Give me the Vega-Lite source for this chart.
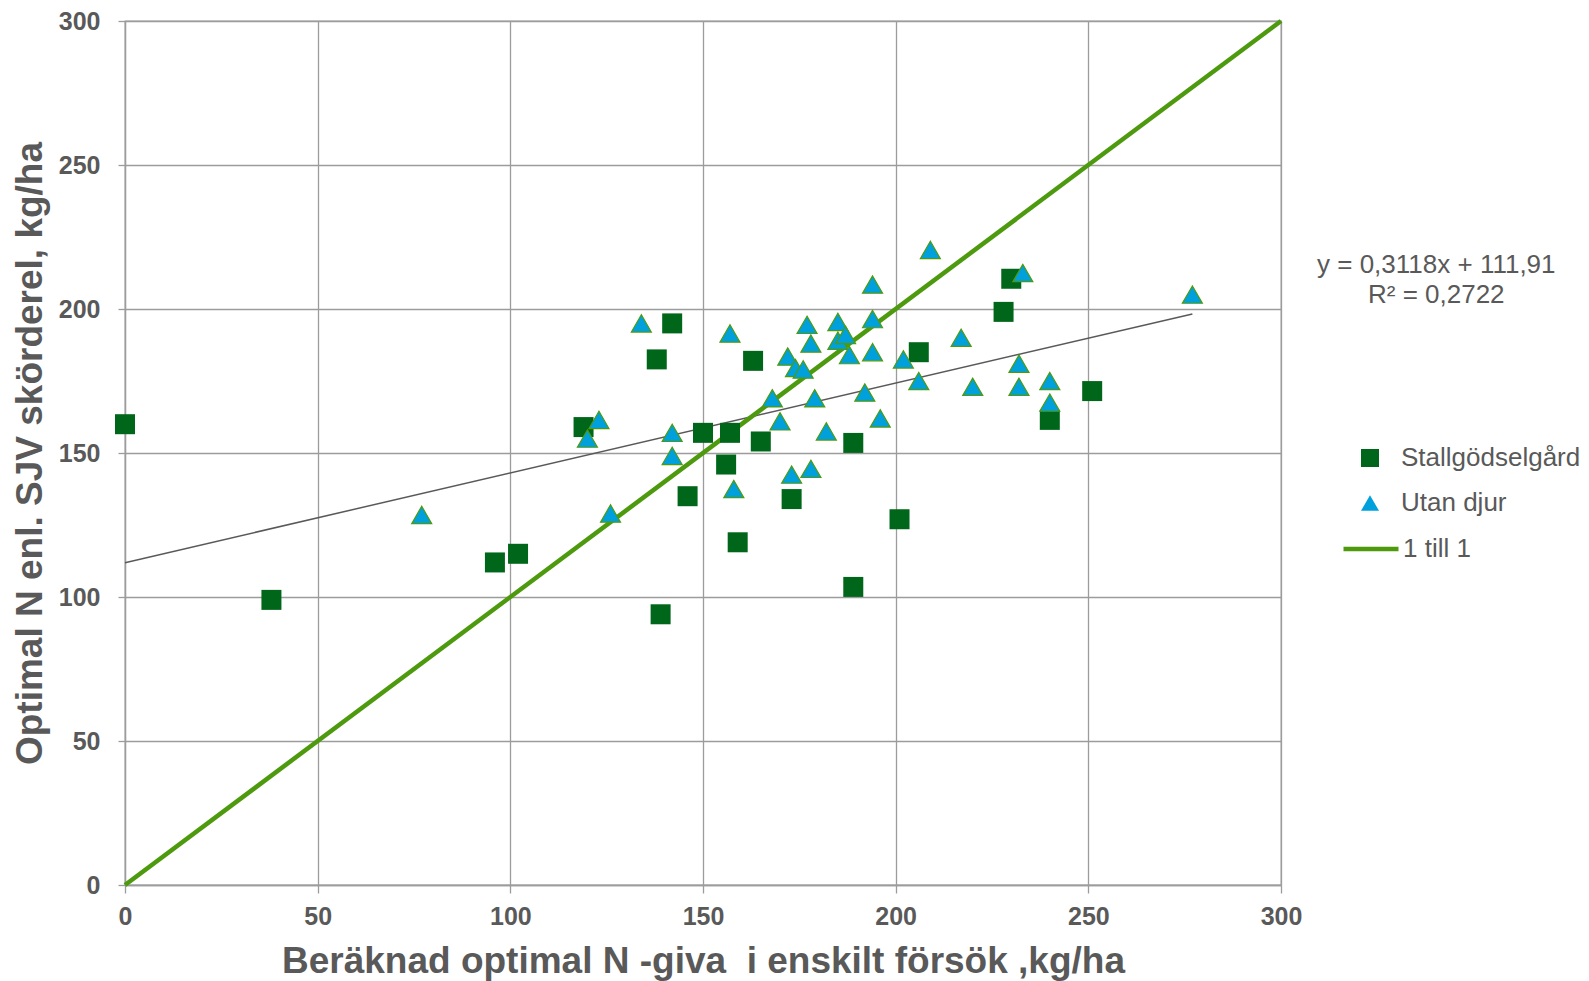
{
  "$schema": "https://vega.github.io/schema/vega-lite/v6.json",
  "autosize": {"type": "none"},
  "width": 1156,
  "height": 864,
  "padding": {"left": 125, "top": 21, "right": 308, "bottom": 96},
  "background": "white",
  "config": {
    "font": "Liberation Sans",
    "view": {"stroke": "#9c9c9c", "strokeWidth": 1.3},
    "axis": {
      "gridColor": "#9c9c9c", "gridWidth": 1.3, "gridOpacity": 1,
      "domainColor": "#9c9c9c", "domainWidth": 1.3,
      "tickColor": "#9c9c9c", "tickWidth": 1.3,
      "labelFont": "Liberation Sans", "labelFontSize": 25, "labelFontWeight": "bold", "labelColor": "#595959",
      "labelFlush": false,
      "titleFont": "Liberation Sans", "titleFontSize": 37, "titleFontWeight": "bold", "titleColor": "#595959"
    },
    "legend": {
      "labelFont": "Liberation Sans", "labelFontSize": 26, "labelColor": "#595959", "padding": 0, "labelLimit": 0
    }
  },
  "datasets": {
    "punkter": [
      {"x": 0, "y": 160, "grupp": "Stallgödselgård"},
      {"x": 38, "y": 99, "grupp": "Stallgödselgård"},
      {"x": 96, "y": 112, "grupp": "Stallgödselgård"},
      {"x": 102, "y": 115, "grupp": "Stallgödselgård"},
      {"x": 119, "y": 159, "grupp": "Stallgödselgård"},
      {"x": 138, "y": 182.5, "grupp": "Stallgödselgård"},
      {"x": 139, "y": 94, "grupp": "Stallgödselgård"},
      {"x": 142, "y": 195, "grupp": "Stallgödselgård"},
      {"x": 146, "y": 135, "grupp": "Stallgödselgård"},
      {"x": 150, "y": 157, "grupp": "Stallgödselgård"},
      {"x": 156, "y": 146, "grupp": "Stallgödselgård"},
      {"x": 157, "y": 157, "grupp": "Stallgödselgård"},
      {"x": 159, "y": 119, "grupp": "Stallgödselgård"},
      {"x": 163, "y": 182, "grupp": "Stallgödselgård"},
      {"x": 165, "y": 154, "grupp": "Stallgödselgård"},
      {"x": 173, "y": 134, "grupp": "Stallgödselgård"},
      {"x": 189, "y": 153.5, "grupp": "Stallgödselgård"},
      {"x": 189, "y": 103.5, "grupp": "Stallgödselgård"},
      {"x": 201, "y": 127, "grupp": "Stallgödselgård"},
      {"x": 206, "y": 185, "grupp": "Stallgödselgård"},
      {"x": 228, "y": 199, "grupp": "Stallgödselgård"},
      {"x": 230, "y": 210.5, "grupp": "Stallgödselgård"},
      {"x": 240, "y": 161.5, "grupp": "Stallgödselgård"},
      {"x": 251, "y": 171.5, "grupp": "Stallgödselgård"},
      {"x": 77, "y": 128.5, "grupp": "Utan djur"},
      {"x": 120, "y": 155, "grupp": "Utan djur"},
      {"x": 123, "y": 161.5, "grupp": "Utan djur"},
      {"x": 126, "y": 129, "grupp": "Utan djur"},
      {"x": 134, "y": 195, "grupp": "Utan djur"},
      {"x": 142, "y": 157, "grupp": "Utan djur"},
      {"x": 142, "y": 149, "grupp": "Utan djur"},
      {"x": 157, "y": 191.5, "grupp": "Utan djur"},
      {"x": 158, "y": 137.5, "grupp": "Utan djur"},
      {"x": 168, "y": 169, "grupp": "Utan djur"},
      {"x": 170, "y": 161, "grupp": "Utan djur"},
      {"x": 172, "y": 183.5, "grupp": "Utan djur"},
      {"x": 173, "y": 142.5, "grupp": "Utan djur"},
      {"x": 174, "y": 179.5, "grupp": "Utan djur"},
      {"x": 176, "y": 179, "grupp": "Utan djur"},
      {"x": 177, "y": 194.5, "grupp": "Utan djur"},
      {"x": 178, "y": 188, "grupp": "Utan djur"},
      {"x": 178, "y": 144.5, "grupp": "Utan djur"},
      {"x": 179, "y": 169, "grupp": "Utan djur"},
      {"x": 182, "y": 157.5, "grupp": "Utan djur"},
      {"x": 185, "y": 195.5, "grupp": "Utan djur"},
      {"x": 185, "y": 189, "grupp": "Utan djur"},
      {"x": 187, "y": 191, "grupp": "Utan djur"},
      {"x": 188, "y": 184, "grupp": "Utan djur"},
      {"x": 192, "y": 171, "grupp": "Utan djur"},
      {"x": 194, "y": 208.5, "grupp": "Utan djur"},
      {"x": 194, "y": 196.5, "grupp": "Utan djur"},
      {"x": 194, "y": 185, "grupp": "Utan djur"},
      {"x": 196, "y": 162, "grupp": "Utan djur"},
      {"x": 202, "y": 182.5, "grupp": "Utan djur"},
      {"x": 206, "y": 175, "grupp": "Utan djur"},
      {"x": 209, "y": 220.5, "grupp": "Utan djur"},
      {"x": 217, "y": 190, "grupp": "Utan djur"},
      {"x": 220, "y": 173, "grupp": "Utan djur"},
      {"x": 232, "y": 181, "grupp": "Utan djur"},
      {"x": 232, "y": 173, "grupp": "Utan djur"},
      {"x": 233, "y": 212.5, "grupp": "Utan djur"},
      {"x": 240, "y": 175, "grupp": "Utan djur"},
      {"x": 240, "y": 167.5, "grupp": "Utan djur"},
      {"x": 277, "y": 205, "grupp": "Utan djur"}
    ],
    "ettTillEtt": [
      {"x": 0, "y": 0, "serie": "1 till 1"},
      {"x": 300, "y": 300, "serie": "1 till 1"}
    ],
    "trend": [
      {"x": 0, "y": 111.91},
      {"x": 277, "y": 198.28}
    ]
  },
  "layer": [
    {
      "data": {"name": "trend"},
      "mark": {"type": "line", "color": "#595959", "strokeWidth": 1.5},
      "encoding": {
        "x": {"field": "x", "type": "quantitative", "scale": {"domain": [0, 300], "nice": false},
              "axis": {"values": [0, 50, 100, 150, 200, 250, 300], "tickSize": 8, "labelPadding": 11,
                       "title": "Beräknad optimal N -giva \u00a0i enskilt försök ,kg/ha", "titlePadding": 14}},
        "y": {"field": "y", "type": "quantitative", "scale": {"domain": [0, 300], "nice": false},
              "axis": {"values": [0, 50, 100, 150, 200, 250, 300], "tickSize": 7, "labelPadding": 18,
                       "title": "Optimal N enl. SJV skörderel, kg/ha", "titlePadding": 9}}
      }
    },
    {
      "data": {"name": "ettTillEtt"},
      "mark": {"type": "line", "strokeWidth": 4.5},
      "encoding": {
        "x": {"field": "x", "type": "quantitative"},
        "y": {"field": "y", "type": "quantitative"},
        "stroke": {"field": "serie", "type": "nominal",
                   "scale": {"domain": ["1 till 1"], "range": ["#4e9a0f"]},
                   "legend": {"title": null, "orient": "none", "legendX": 1216, "legendY": 498,
                              "symbolType": "stroke", "symbolSize": 3025, "symbolStrokeWidth": 4.5,
                              "labelOffset": 2}}
      }
    },
    {
      "data": {"name": "punkter"},
      "transform": [{"filter": "datum.grupp === 'Stallgödselgård'"}],
      "mark": {"type": "point", "filled": true, "opacity": 1, "size": 400},
      "encoding": {
        "x": {"field": "x", "type": "quantitative"},
        "y": {"field": "y", "type": "quantitative"},
        "color": {"field": "grupp", "type": "nominal",
                  "scale": {"domain": ["Stallgödselgård", "Utan djur"], "range": ["#006619", "#00a0dc"]},
                  "legend": {"title": null, "orient": "none", "legendX": 1232, "legendY": 424,
                             "symbolSize": 324, "symbolOpacity": 1, "symbolStrokeWidth": 0,
                             "rowPadding": 19, "labelOffset": 18}},
        "shape": {"field": "grupp", "type": "nominal",
                  "scale": {"domain": ["Stallgödselgård", "Utan djur"], "range": ["square", "triangle-up"]}}
      }
    },
    {
      "data": {"name": "punkter"},
      "transform": [{"filter": "datum.grupp === 'Utan djur'"}],
      "mark": {"type": "point", "filled": true, "opacity": 1, "size": 400, "stroke": "#4e9a0f", "strokeWidth": 1.2},
      "encoding": {
        "x": {"field": "x", "type": "quantitative"},
        "y": {"field": "y", "type": "quantitative"},
        "color": {"field": "grupp", "type": "nominal"},
        "shape": {"field": "grupp", "type": "nominal"}
      }
    },
    {
      "data": {"values": [{"etikett": "trendlinje"}]},
      "mark": {"type": "text", "align": "center", "baseline": "alphabetic", "fontSize": 26, "lineHeight": 30,
               "color": "#595959", "font": "Liberation Sans", "clip": false},
      "encoding": {
        "x": {"datum": 340.3, "type": "quantitative"},
        "y": {"datum": 212.5, "type": "quantitative"},
        "text": {"value": ["y = 0,3118x + 111,91", "R² = 0,2722"]}
      }
    }
  ]
}
